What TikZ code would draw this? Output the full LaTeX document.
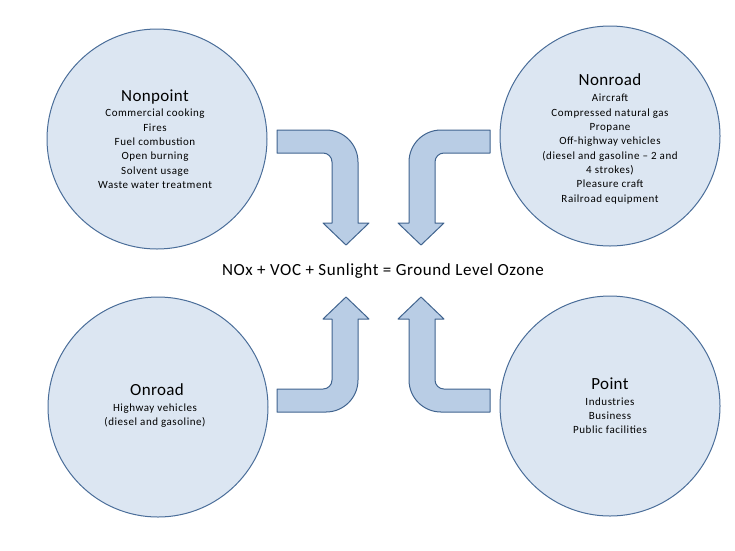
\documentclass[tikz,border=0pt]{standalone}
\usepackage{fontspec}
\setmainfont{Carlito}
\newfontfamily\titlefont[LetterSpace=2]{Carlito}
\newfontfamily\eqnfont[LetterSpace=3.5]{Carlito}
\newfontfamily\itemfont[LetterSpace=5]{Carlito}
\definecolor{circfill}{HTML}{DCE6F2}
\definecolor{circline}{HTML}{4A6D99}
\definecolor{arrfill}{HTML}{B9CDE5}
\definecolor{arrline}{HTML}{41648F}
\tikzset{
  circ/.style={circle, draw=circline, fill=circfill, line width=1pt, minimum size=220pt, inner sep=0pt},
  ttl/.style={font=\titlefont\fontsize{17}{20}\selectfont, inner sep=0pt, text=black},
  itm/.style={font=\itemfont\fontsize{11}{14.3}\selectfont, inner sep=0pt, align=center, text=black},
  itmtight/.style={font=\itemfont\fontsize{11}{13.5}\selectfont, inner sep=0pt, align=center, text=black},
  eqn/.style={font=\eqnfont\fontsize{17}{20}\selectfont, inner sep=0pt, text=black},
  arrowstyle/.style={draw=arrline, fill=arrfill, line width=1pt, line join=round}
}
\newcommand{\ozarrow}{%
  \filldraw[arrowstyle] (277,130) -- (326,130) .. controls (343.7,130) and (358,144.3) .. (358,162)
    -- (358,223) -- (369,223) -- (346,245) -- (323,223) -- (332,223) -- (332,162)
    .. controls (332,157) and (328,153) .. (323,153) -- (277,153) -- cycle;}
\begin{document}
\begin{tikzpicture}[x=1pt,y=-1pt]
\path[use as bounding box] (0,0) rectangle (735,550);

% circles
\node[circ] (nonpoint) at (157,139) {};
\node[circ] (nonroad) at (610,136) {};
\node[circ] (onroad) at (158,407) {};
\node[circ] (point) at (610,406) {};

% arrows
\ozarrow
\begin{scope}[xshift=767pt, xscale=-1]\ozarrow\end{scope}
\begin{scope}[yshift=-542pt, yscale=-1]\ozarrow\end{scope}
\begin{scope}[xshift=767pt, xscale=-1, yshift=-542pt, yscale=-1]\ozarrow\end{scope}

% texts
\node[ttl, anchor=base] (nonpointT) at (155,101) {Nonpoint};
\node[itm, anchor=north] (nonpointL) at (155,106.7) {\strut Commercial cooking\\Fires\\Fuel combustion\\Open burning\\Solvent usage\\Waste water treatment};

\node[ttl, anchor=base] (nonroadT) at (610,85) {Nonroad};
\node[itm, anchor=north] (nonroadL) at (610,91.7) {\strut Aircraft\\Compressed natural gas\\Propane\\Off-highway vehicles\\(diesel and gasoline – 2 and\\4 strokes)\\Pleasure craft\\Railroad equipment};

\node[ttl, anchor=base] (onroadT) at (157,395.7) {Onroad};
\node[itmtight, anchor=north] (onroadL) at (155,402.25) {\strut Highway vehicles\\(diesel and gasoline)};

\node[ttl, anchor=base] (pointT) at (610,389.3) {Point};
\node[itm, anchor=north] (pointL) at (610,395) {\strut Industries\\Business\\Public facilities};

\node[eqn, anchor=base] (ozone) at (383,275.5) {NOx + VOC + Sunlight = Ground Level Ozone};
\end{tikzpicture}
\end{document}
